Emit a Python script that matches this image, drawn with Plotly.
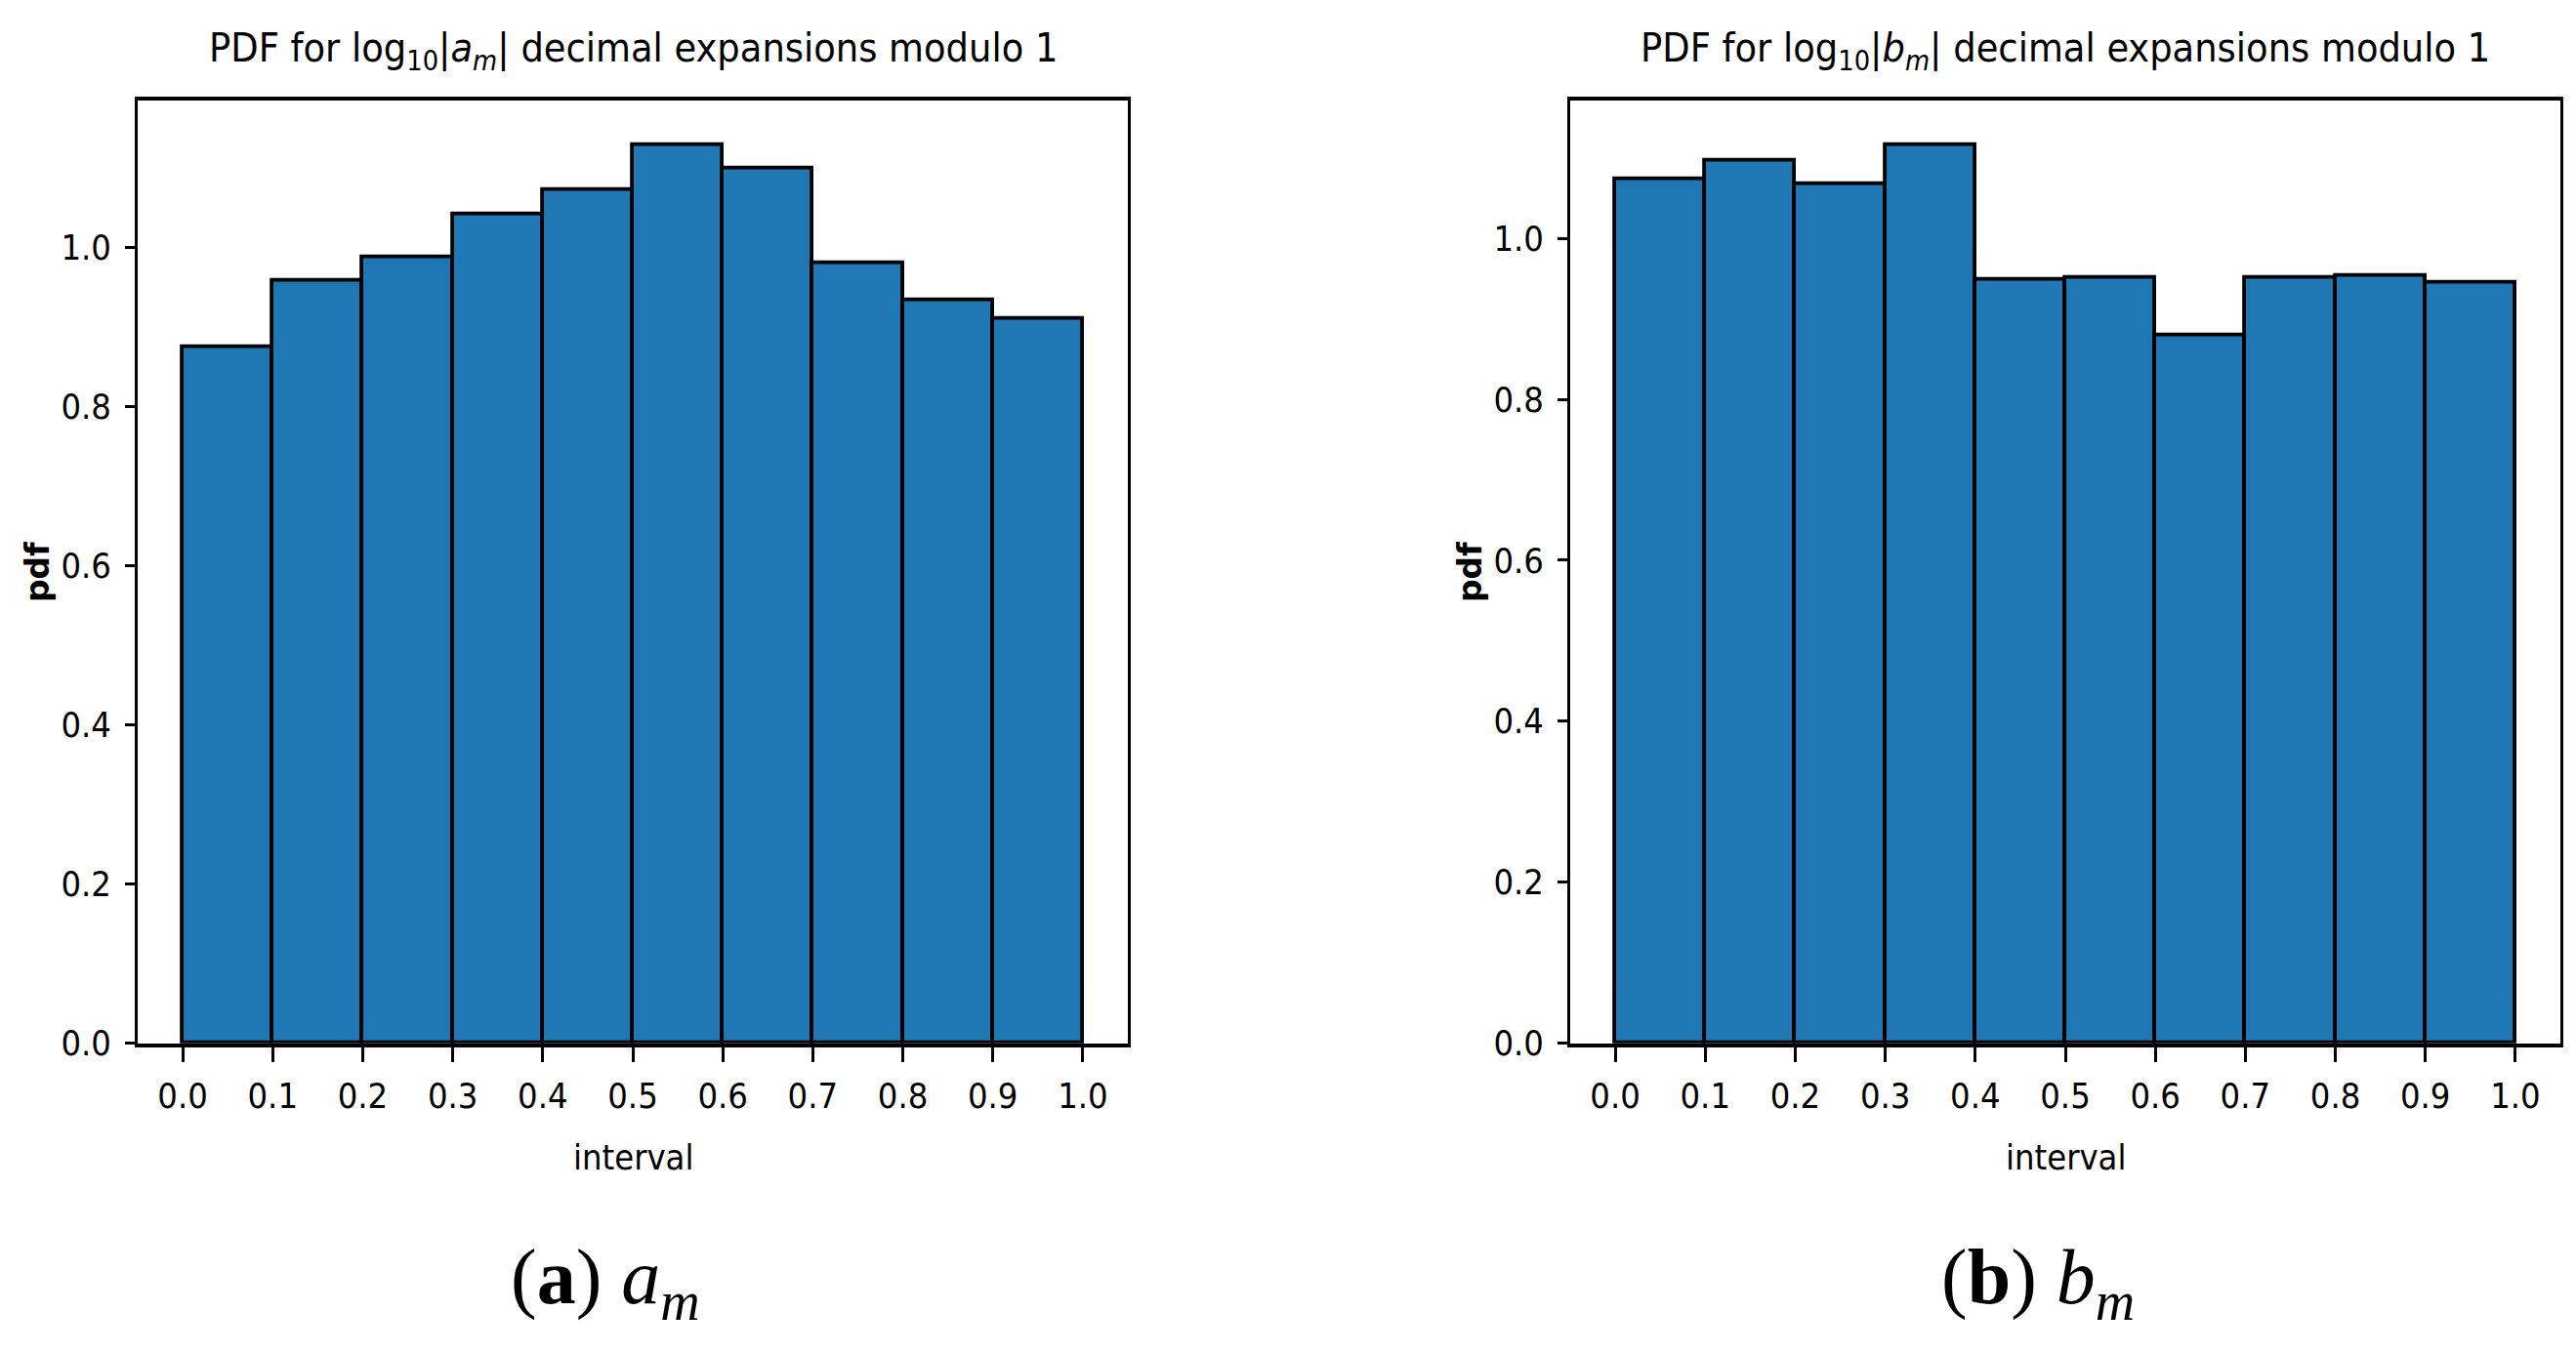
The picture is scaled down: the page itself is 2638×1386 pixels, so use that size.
import plotly.graph_objects as go

# ---- data ----
bin_edges = [0.0, 0.1, 0.2, 0.3, 0.4, 0.5, 0.6, 0.7, 0.8, 0.9, 1.0]
pdf_a = [0.875, 0.959, 0.988, 1.042, 1.073, 1.129, 1.100, 0.980, 0.934, 0.911]
pdf_b = [1.074, 1.097, 1.068, 1.116, 0.949, 0.951, 0.880, 0.951, 0.953, 0.945]
tick_vals_x = [0.0, 0.1, 0.2, 0.3, 0.4, 0.5, 0.6, 0.7, 0.8, 0.9, 1.0]
tick_text_x = ["0.0", "0.1", "0.2", "0.3", "0.4", "0.5", "0.6", "0.7", "0.8", "0.9", "1.0"]
tick_vals_y = [0.0, 0.2, 0.4, 0.6, 0.8, 1.0]
tick_text_y = ["0.0", "0.2", "0.4", "0.6", "0.8", "1.0"]
titles = ["PDF for log<sub>10</sub>|<i>a</i><sub><i>m</i></sub>| decimal expansions modulo 1",
          "PDF for log<sub>10</sub>|<i>b</i><sub><i>m</i></sub>| decimal expansions modulo 1"]
captions = ["(<b>a</b>) <i>a</i><sub><i>m</i></sub>", "(<b>b</b>) <i>b</i><sub><i>m</i></sub>"]
x_label = "interval"
y_label = "pdf"

W, H = 2638, 1386
SANS = "DejaVu Sans Condensed, DejaVu Sans, sans-serif"
SERIF = "Liberation Serif, DejaVu Serif, serif"
BLUE = "#1f77b4"

centers = [(bin_edges[i] + bin_edges[i + 1]) / 2 for i in range(len(bin_edges) - 1)]
widths = [bin_edges[i + 1] - bin_edges[i] for i in range(len(bin_edges) - 1)]

x_domains = [[133 / W, 1147 / W], [1600 / W, 2614 / W]]
y_domain = [(H - 1077) / H, (H - 96) / H]

fig = go.Figure()
for k, vals in enumerate([pdf_a, pdf_b]):
    xa = "x" if k == 0 else "x2"
    ya = "y" if k == 0 else "y2"
    fig.add_trace(go.Bar(
        x=centers, y=vals, width=widths, xaxis=xa, yaxis=ya,
        marker=dict(color=BLUE, line=dict(color="black", width=3.8)),
        showlegend=False, hoverinfo="skip",
    ))

def xaxis_cfg(dom):
    return dict(domain=dom, range=[-0.05, 1.05], tickmode="array", tickvals=tick_vals_x,
                ticktext=tick_text_x, ticks="outside", ticklen=15, tickwidth=2.7,
                tickcolor="black", showline=True, linecolor="black", linewidth=4,
                mirror=True, showgrid=False, zeroline=False, ticklabelstandoff=4,
                tickfont=dict(family=SANS, size=36, color="black"))

def yaxis_cfg(anchor, top):
    return dict(domain=y_domain, anchor=anchor, range=[0, top], tickmode="array",
                tickvals=tick_vals_y, ticktext=tick_text_y, ticks="outside", ticklen=10,
                tickwidth=3, tickcolor="black", showline=True, linecolor="black",
                linewidth=2.7, mirror=True, showgrid=False, zeroline=False,
                ticklabelstandoff=7,
                tickfont=dict(family=SANS, size=36, color="black"))

fig.update_layout(
    width=W, height=H, margin=dict(l=0, r=0, t=0, b=0),
    paper_bgcolor="white", plot_bgcolor="white", bargap=0,
    xaxis=dict(**xaxis_cfg(x_domains[0]), anchor="y"),
    yaxis=yaxis_cfg("x", max(pdf_a) * 1.05),
    xaxis2=dict(**xaxis_cfg(x_domains[1]), anchor="y2"),
    yaxis2=yaxis_cfg("x2", max(pdf_b) * 1.05),
)

ann = []
for k in range(2):
    cx = (x_domains[k][0] + x_domains[k][1]) / 2
    ann.append(dict(text=titles[k], x=cx, y=1 - 45 / H, xref="paper", yref="paper",
                    xanchor="center", yanchor="middle", showarrow=False,
                    font=dict(family=SANS, size=41, color="black")))
    ann.append(dict(text=x_label, x=cx, y=1 - 1196 / H, xref="paper", yref="paper",
                    xanchor="center", yanchor="middle", showarrow=False,
                    font=dict(family=SANS, size=36, color="black")))
    ann.append(dict(text=y_label, x=x_domains[k][0] - 103 / W, y=1 - 587 / H, xref="paper",
                    yref="paper", xanchor="center", yanchor="middle", showarrow=False,
                    textangle=-90, font=dict(family="DejaVu Sans", size=33, color="black",
                                             weight="bold")))
    ann.append(dict(text=captions[k], x=cx - 28 / W, y=1 - 1326 / H, xref="paper",
                    yref="paper", xanchor="center", yanchor="middle", showarrow=False,
                    font=dict(family=SERIF, size=80, color="black")))
fig.update_layout(annotations=ann)

fig.write_html("out.html")
